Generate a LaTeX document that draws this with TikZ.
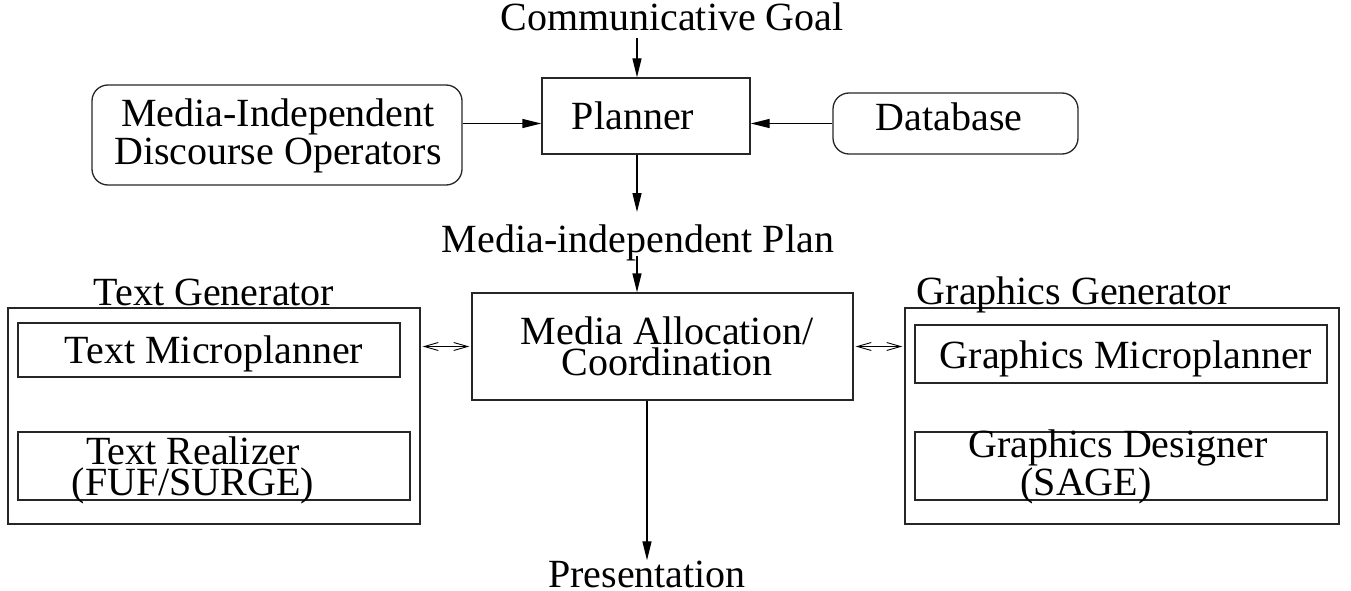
\documentclass[tikz,border=0pt]{standalone}
\usepackage{fontspec}
\setmainfont{Liberation Serif}
\usetikzlibrary{arrows.meta}
\begin{document}
\begin{tikzpicture}[x=1pt,y=-1pt,
  every node/.style={font=\fontsize{40}{31}\selectfont},
  box/.style={draw=black!85,line width=1.3pt,inner sep=0pt},
  rbox/.style={box,rounded corners=16pt},
  txt/.style={anchor=base,inner sep=0pt,align=center},
  arr/.style={line width=1.3pt,-{Triangle[length=19pt,width=9pt]}},
  darr/.style={line width=0.9pt,{Straight Barb[length=14pt,width=8pt]}-{Straight Barb[length=14pt,width=8pt]}}]
\useasboundingbox (0,0) rectangle (1351,591);

% boxes
\node[box, minimum width=208pt, minimum height=76pt] (planner) at (646,116) {};
\node[rbox, minimum width=370pt, minimum height=100pt] (mido) at (277,135) {};
\node[rbox, minimum width=245pt, minimum height=61pt] (db) at (955.5,123.5) {};
\node[box, minimum width=381pt, minimum height=107pt] (ma) at (662.5,346.5) {};
\node[box, minimum width=412pt, minimum height=216pt] (tg) at (214,416) {};
\node[box, minimum width=382pt, minimum height=54pt] (tm) at (209,350) {};
\node[box, minimum width=392pt, minimum height=68pt] (tr) at (214,466) {};
\node[box, minimum width=434pt, minimum height=216pt] (gg) at (1122,416) {};
\node[box, minimum width=412pt, minimum height=58pt] (gm) at (1121,354) {};
\node[box, minimum width=412pt, minimum height=68pt] (gd) at (1121,466) {};

% texts (multi-line texts: position is the baseline of the last line)
\node[txt] (goal) at (672,31) {Communicative Goal};
\node[txt] (plannert) at (633,129) {Planner};
\node[txt, font=\fontsize{40}{37}\selectfont] (midot) at (278,164) {Media-Independent\\Discourse Operators};
\node[txt] (dbt) at (949,131) {Database};
\node[txt] (plan) at (638,252) {Media-independent Plan};
\node[txt] (tgt) at (214,305) {Text Generator};
\node[txt] (ggt) at (1074,304) {Graphics Generator};
\node[txt] (tmt) at (214,363) {Text Microplanner};
\node[txt] (trt) at (193,495) {Text Realizer\\(FUF/SURGE)};
\node[txt] (gmt) at (1126,368) {Graphics Microplanner};
\node[txt] (gdt) at (1118,495) {Graphics Designer\\\hspace*{-64pt}(SAGE)};
\node[txt] (mat) at (667,375) {Media Allocation/\\Coordination};
\node[txt] (pres) at (647,587) {Presentation};

% connectors
\coordinate (g1) at (637,38);
\coordinate (p1) at (637,212);
\coordinate (p2) at (637,256);
\draw[arr] (g1) -- (g1 |- planner.north);
\draw[arr] (g1 |- planner.south) -- (p1);
\draw[arr] (p2) -- (p2 |- ma.north);
\draw[arr] (mido.east |- db.west) -- (planner.west |- db.west);
\draw[arr] (db.west) -- (planner.east |- db.west);
\draw[darr, shorten <=2pt, shorten >=2pt] (tg.east |- ma.west) -- (ma.west);
\draw[darr, shorten <=2pt, shorten >=2pt] (ma.east) -- (gg.west |- ma.east);
\draw[arr] (ma.south -| pres.north) -- (pres.north);
\end{tikzpicture}
\end{document}
